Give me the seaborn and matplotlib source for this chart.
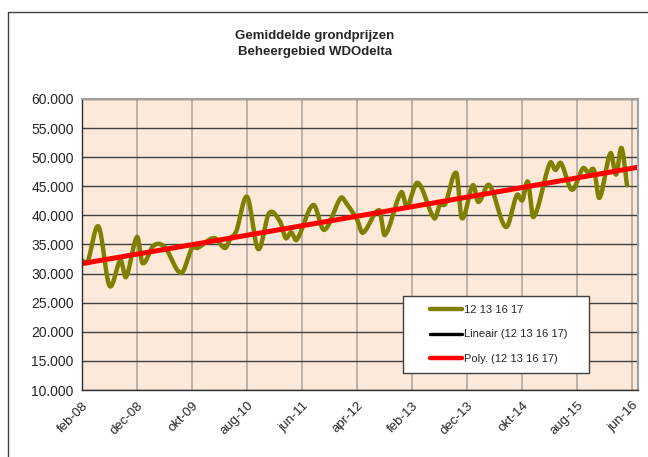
import numpy as np
import pandas as pd
import matplotlib
matplotlib.use("Agg")
from matplotlib import pyplot as plt
from matplotlib.lines import Line2D
from matplotlib.patches import Rectangle
import seaborn as sns

months = ["2008-02", "2008-03", "2008-05", "2008-07", "2008-09", "2008-10", "2008-12",
          "2009-01", "2009-03", "2009-05", "2009-08", "2009-10", "2009-11",
          "2010-02", "2010-04", "2010-05", "2010-06", "2010-08", "2010-10", "2010-12",
          "2011-02", "2011-03", "2011-04", "2011-05", "2011-08", "2011-10",
          "2012-01", "2012-02", "2012-04", "2012-05", "2012-08", "2012-09", "2012-12",
          "2013-01", "2013-03", "2013-06", "2013-07", "2013-08", "2013-10", "2013-11",
          "2014-01", "2014-02", "2014-04", "2014-07", "2014-09", "2014-10", "2014-11", "2014-12",
          "2015-03", "2015-04", "2015-05", "2015-07", "2015-09", "2015-10", "2015-11", "2015-12",
          "2016-02", "2016-03", "2016-04", "2016-05"]
prices = [32300, 32000, 38100, 27900, 32300, 29400, 36300,
          31800, 34800, 34600, 30100, 34400, 34400,
          36100, 34400, 36100, 37200, 43200, 34200, 40400,
          38900, 36100, 37100, 35800, 41800, 37500,
          43000, 42100, 39200, 37000, 40900, 36600, 44000,
          41500, 45600, 39500, 41800, 42000, 47300, 39500,
          45200, 42300, 45200, 38000, 43500, 42600, 45800, 39700,
          49000, 47800, 49000, 44400, 48100, 47300, 47800, 43000,
          50700, 47000, 51600, 45200]

tick_labels = ["feb-08", "dec-08", "okt-09", "aug-10", "jun-11", "apr-12",
               "feb-13", "dec-13", "okt-14", "aug-15", "jun-16"]
series_name = "12 13 16 17"


def month_offset(s):
    d = pd.Timestamp(s + "-01")
    return (d.year - 2008) * 12 + d.month - 2


def smooth(x, y, n=12):
    """Hermite-curve door de punten, zoals de 'vloeiende lijn' in Excel."""
    x = np.asarray(x, float)
    y = np.asarray(y, float)
    m = np.zeros_like(y)
    m[1:-1] = (y[2:] - y[:-2]) / (x[2:] - x[:-2])
    m[0] = (y[1] - y[0]) / (x[1] - x[0])
    m[-1] = (y[-1] - y[-2]) / (x[-1] - x[-2])
    xs, ys = [], []
    for i in range(len(x) - 1):
        h = x[i + 1] - x[i]
        t = np.linspace(0, 1, n, endpoint=False)
        h00 = 2 * t**3 - 3 * t**2 + 1
        h10 = t**3 - 2 * t**2 + t
        h01 = -2 * t**3 + 3 * t**2
        h11 = t**3 - t**2
        xs.extend(x[i] + t * h)
        ys.extend(h00 * y[i] + h10 * h * m[i] + h01 * y[i + 1] + h11 * h * m[i + 1])
    xs.append(x[-1])
    ys.append(y[-1])
    return np.array(xs), np.array(ys)


x = np.array([month_offset(m) for m in months])
y = np.array(prices)
sx, sy = smooth(x, y)
df = pd.DataFrame({"maand": sx, "prijs": sy})

xt = np.linspace(0, 101, 200)
lin = np.polyval(np.polyfit(x, y, 1), xt)
poly = np.polyval(np.polyfit(x, y, 2), xt)

sns.set_style("white")
plt.rcParams['font.family'] = ['Liberation Sans', 'DejaVu Sans']

fig = plt.figure(figsize=(6.48, 4.57), dpi=100)
ax = fig.add_axes([82 / 648, 1 - 390 / 457, (638 - 82) / 648, (390 - 99) / 457])
ax.set_facecolor('#fce9da')

sns.lineplot(data=df, x="maand", y="prijs", ax=ax, color='#808000', linewidth=3.2, sort=False)
ax.plot(xt, lin, color='black', linewidth=2)
ax.plot(xt, poly, color='#ff0000', linewidth=3.6)

ax.set_xlim(0, 101)
ax.set_ylim(10000, 60000)
ax.set_yticks(np.arange(10000, 60001, 5000))
ax.set_yticklabels([f"{v:,}".replace(",", ".") for v in range(10000, 60001, 5000)], fontsize=10)
ax.set_xticks(np.arange(0, 101, 10))
ax.set_xticklabels(tick_labels, rotation=45, ha='right', rotation_mode='anchor', fontsize=9.5)
ax.tick_params(axis='both', direction='out', length=4, width=1, color='#404040', pad=3)
ax.tick_params(axis='y', pad=2)
ax.set_xlabel("")
ax.set_ylabel("")

ax.grid(axis='y', color='#404040', linewidth=1)
ax.grid(axis='x', color='#b0a8a0', linewidth=1.2)
ax.set_axisbelow(True)
for side in ['top', 'right']:
    ax.spines[side].set_color('#a0a0a0')
    ax.spines[side].set_linewidth(1.5)
for side in ['left', 'bottom']:
    ax.spines[side].set_color('#303030')
    ax.spines[side].set_linewidth(1)

# legendakader apart tekenen (Excel heeft veel ruimte links en rechts)
ax.add_patch(Rectangle(((403 - 82) / 556, (390 - 373) / 291), 186 / 556, 77 / 291,
                       transform=ax.transAxes, facecolor='white', edgecolor='#404040',
                       linewidth=1, zorder=4.5))
handles = [Line2D([], [], color='#808000', linewidth=3.2),
           Line2D([], [], color='black', linewidth=2.4),
           Line2D([], [], color='#ff0000', linewidth=3.2)]
labels = [series_name, f"Lineair ({series_name})", f"Poly. ({series_name})"]
leg = ax.legend(handles, labels, loc='upper left', bbox_to_anchor=((430 - 82) / 556, (390 - 305) / 291),
                frameon=False, fontsize=8, handlelength=2.9, handletextpad=0.2,
                labelspacing=1.3, borderpad=0, borderaxespad=0)
leg.set_zorder(5)

fig.text(315 / 648, 1 - 44 / 457, "Gemiddelde grondprijzen\nBeheergebied WDOdelta",
         ha='center', va='center', fontsize=9.5, fontweight='bold', linespacing=1.55)

fig.add_artist(Line2D([8 / 648, 1], [1 - 12 / 457, 1 - 12 / 457], color='#404040', linewidth=1))
fig.add_artist(Line2D([8 / 648, 8 / 648], [0, 1 - 12 / 457], color='#404040', linewidth=1))

fig.savefig("out.png", dpi=100)
